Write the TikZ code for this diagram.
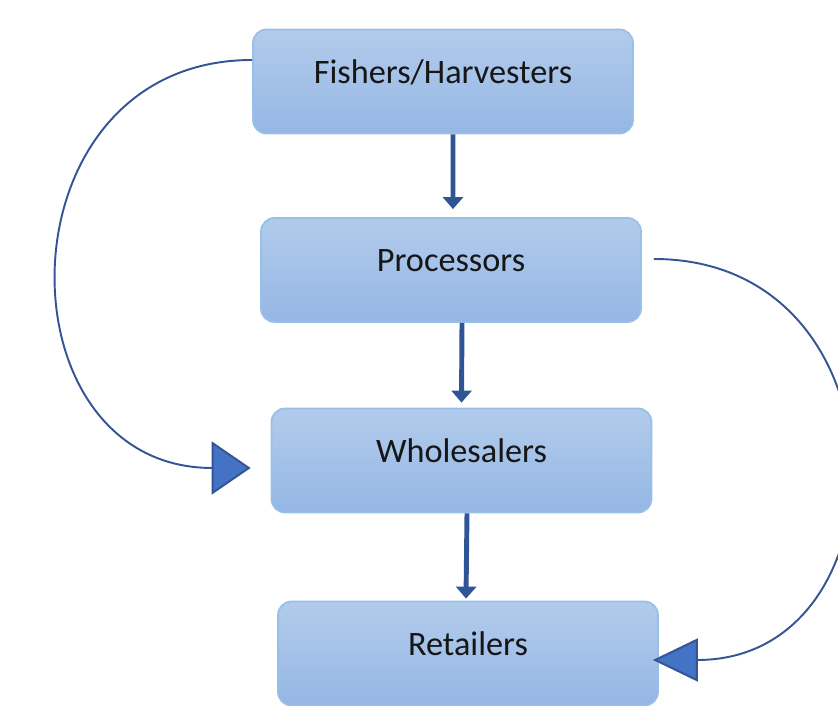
\documentclass[tikz,border=0pt]{standalone}
\usepackage{fontspec}
\setmainfont{Carlito}
\usetikzlibrary{arrows.meta}
\definecolor{boxtop}{RGB}{178,203,236}
\definecolor{boxbottom}{RGB}{149,183,228}
\definecolor{boxedge}{RGB}{152,192,230}
\definecolor{flowblue}{RGB}{47,85,151}
\definecolor{loopblue}{RGB}{52,84,150}
\definecolor{headblue}{RGB}{68,114,196}
\definecolor{labelgray}{RGB}{22,22,22}

\begin{document}
\begin{tikzpicture}[
        stage/.style={draw=boxedge,line width=1pt,rounded corners=0.27cm,top color=boxtop,bottom color=boxbottom,
                      minimum width=7.6cm,inner sep=0pt,text height=1.08cm,text depth=1cm,text=labelgray,
                      font=\fontsize{19.5}{23}\selectfont},
        flow/.style={draw=flowblue,line width=2.8pt,-{Triangle[width=0.4cm,length=0.24cm]}},
        bypass/.style={draw=loopblue,line width=1.1pt}]
    \useasboundingbox (0,0) rectangle (16.76,14.12);

    \node[stage] (fishers) at (8.86,12.49) {Fishers/Harvesters};
    \node[stage] (processors) at (9.02,8.72) {Processors};
    \node[stage] (wholesalers) at (9.23,4.91) {Wholesalers};
    \node[stage] (retailers) at (9.36,1.05) {Retailers};

    \draw[flow] ([xshift=0.2cm]fishers.south) -- ([xshift=0.04cm,yshift=0.16cm]processors.north);
    \draw[flow] ([xshift=0.22cm]processors.south) -- ([yshift=0.1cm]wholesalers.north);
    \draw[flow] ([xshift=0.11cm]wholesalers.south) -- ([xshift=-0.04cm,yshift=0.04cm]retailers.north);

    \draw[bypass,-{Triangle[width=1.06cm,length=0.78cm,fill=headblue]}] ([yshift=0.43cm]fishers.west)
        to[out=180,in=180,looseness=1.6] ([xshift=-0.4cm,yshift=-0.15cm]wholesalers.west);
    \draw[bypass,-{Triangle[width=0.86cm,length=0.9cm,fill=headblue]}] ([xshift=0.24cm,yshift=0.22cm]processors.east)
        to[out=0,in=0,looseness=1.64] ([xshift=-0.12cm,yshift=-0.13cm]retailers.east);
\end{tikzpicture}
\end{document}
